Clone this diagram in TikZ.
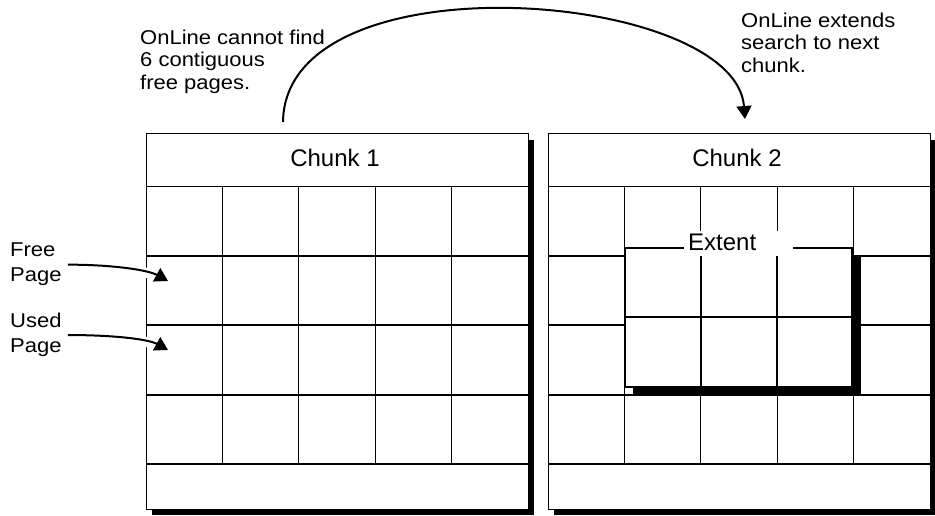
\documentclass[tikz,border=0pt]{standalone}
\usepackage{fontspec}
\setmainfont{Liberation Sans}
\newfontfamily\notefont{Liberation Sans}[FakeStretch=1.1]
\usetikzlibrary{arrows.meta}

\begin{document}
\begin{tikzpicture}[x=1pt, y=-1pt,
    note/.style={inner sep=0pt, align=left, anchor=north west, font=\notefont\fontsize{20}{22.5}\selectfont},
    pagelabel/.style={inner sep=0pt, align=left, anchor=north west, font=\notefont\fontsize{20}{25}\selectfont},
    chunktitle/.style={inner sep=0pt, anchor=base, font=\fontsize{24}{28}\selectfont},
    pointer/.style={line width=2pt, -{Triangle[length=13pt, width=15pt]}},
    gridline/.style={line width=1.2pt}]

    \useasboundingbox (0,0) rectangle (935,516);

    % two chunks of pages, each with its shadow
    \foreach \cx/\cn in {146/1, 548/2} {
        \fill (\cx+6,140) rectangle (\cx+388,515);
        \draw[line width=1pt, fill=white] (\cx,134) rectangle (\cx+382,509);
        \draw[line width=1pt] (\cx,187) -- (\cx+382,187);
        \foreach \r in {256,325,395,464}
            \draw[gridline] (\cx,\r) -- (\cx+382,\r);
        \foreach \k in {1,...,4}
            \draw[gridline] (\cx+76.4*\k,187) -- (\cx+76.4*\k,464);
        \node[chunktitle] (chunk\cn) at (\cx+189,167) {Chunk \cn};
    }

    % the extent, raised over chunk 2
    \fill (633,255) rectangle (861,395);
    \draw[line width=1.6pt, fill=white] (625,248) rectangle (852,387);
    \draw[gridline] (625,317) -- (852,317);
    \foreach \x in {701,777}
        \draw[gridline] (\x,256) -- (\x,387);
    \fill[white] (684,231) rectangle (793,256);
    \node[inner sep=0pt, anchor=base west, font=\fontsize{24}{28}\selectfont] (extent) at (688,250) {Extent};

    % notes
    \node[note] (nofit) at (140,29.5) {OnLine cannot find\\6 contiguous\\free pages.};
    \node[note] (nextchunk) at (741,12.5) {OnLine extends\\search to next\\chunk.};
    \node[pagelabel] (free) at (10,243) {Free\\Page};
    \node[pagelabel] (used) at (10,313) {Used\\Page};

    \coordinate (arcstart) at (283,122);
    \coordinate (arcend) at (745,119);
    \coordinate (freetip) at (168,281);
    \coordinate (usedtip) at (168,350);

    \draw[pointer] (arcstart) .. controls (285,-45) and (735,-10) .. (arcend);
    \draw[pointer, preaction={draw=white, line width=10pt, -}]
        ([xshift=6pt]free.east) .. controls +(45,0) and (148,270) .. (freetip);
    \draw[pointer, preaction={draw=white, line width=10pt, -}]
        ([xshift=6pt]used.east) .. controls +(45,0) and (148,339) .. (usedtip);
\end{tikzpicture}
\end{document}
